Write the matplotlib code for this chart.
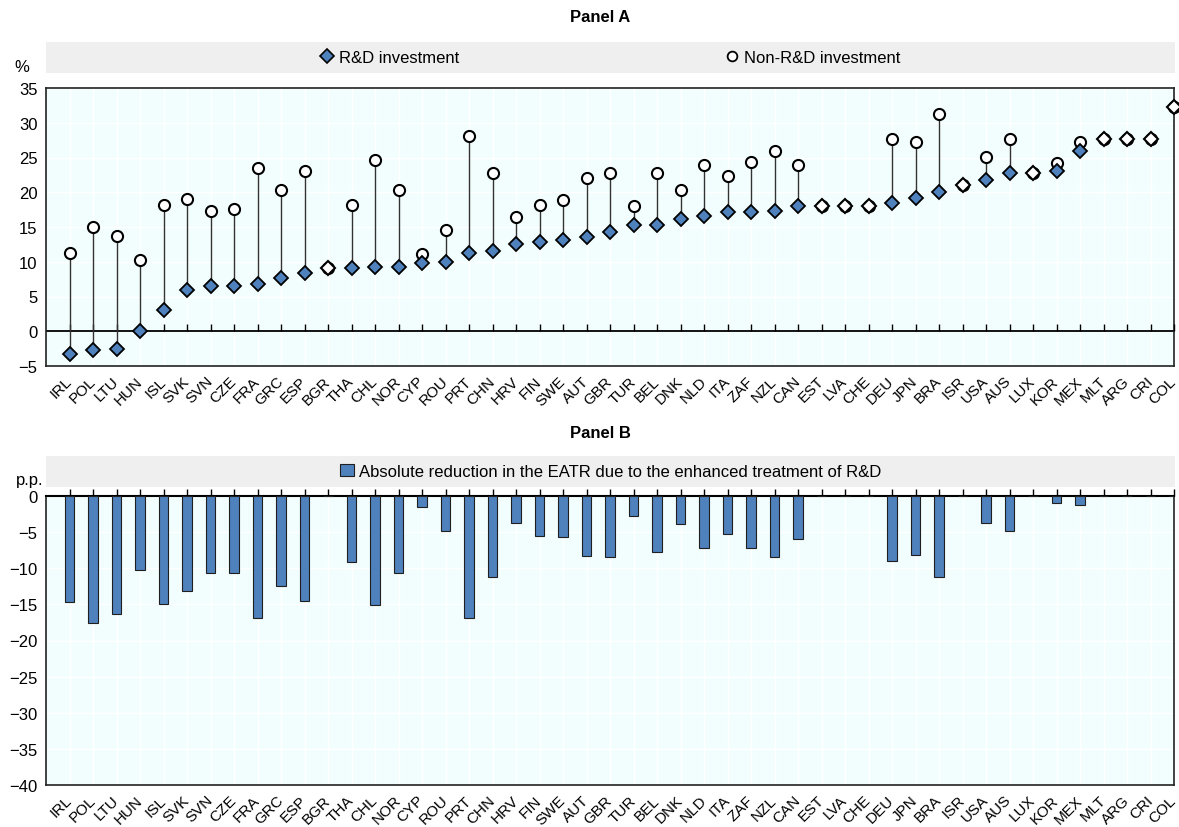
import numpy as np
import matplotlib
matplotlib.use("Agg")
from matplotlib import pyplot as plt
from matplotlib.lines import Line2D
from matplotlib.markers import TICKUP
from matplotlib.patches import Patch

plt.rcParams['font.family'] = ['Liberation Sans Narrow', 'Liberation Sans', 'DejaVu Sans']

#-----------------------------------------------------------------------
#	Data
#-----------------------------------------------------------------------

countries = ['IRL', 'POL', 'LTU', 'HUN', 'ISL', 'SVK', 'SVN', 'CZE', 'FRA', 'GRC',
             'ESP', 'BGR', 'THA', 'CHL', 'NOR', 'CYP', 'ROU', 'PRT', 'CHN', 'HRV',
             'FIN', 'SWE', 'AUT', 'GBR', 'TUR', 'BEL', 'DNK', 'NLD', 'ITA', 'ZAF',
             'NZL', 'CAN', 'EST', 'LVA', 'CHE', 'DEU', 'JPN', 'BRA', 'ISR', 'USA',
             'AUS', 'LUX', 'KOR', 'MEX', 'MLT', 'ARG', 'CRI', 'COL']

rd_invest = [-3.3, -2.75, -2.5, 0.0, 3.1, 6.0, 6.5, 6.5, 6.8, 7.6,
             8.4, 9.1, 9.1, 9.3, 9.3, 9.8, 10.0, 11.2, 11.6, 12.5,
             12.8, 13.2, 13.6, 14.3, 15.3, 15.3, 16.1, 16.6, 17.1, 17.1,
             17.3, 18.0, 18.0, 18.0, 18.0, 18.5, 19.2, 20.0, 21.0, 21.7,
             22.8, 22.8, 23.0, 26.0, 27.6, 27.6, 27.6, 32.2]

non_rd_invest = [11.3, 15.0, 13.7, 10.2, 18.2, 19.1, 17.3, 17.6, 23.5, 20.3,
                 23.1, 9.1, 18.2, 24.6, 20.3, 11.1, 14.6, 28.1, 22.8, 16.4,
                 18.2, 18.9, 22.1, 22.8, 18.0, 22.8, 20.3, 23.9, 22.3, 24.4,
                 26.0, 23.9, 18.0, 18.0, 18.0, 27.6, 27.3, 31.3, 21.0, 25.1,
                 27.6, 22.8, 24.2, 27.3, 27.6, 27.6, 27.6, 32.2]

eatr_reduction = [-14.7, -17.6, -16.3, -10.3, -15.0, -13.2, -10.7, -10.7, -16.9, -12.5,
                  -14.5, 0.0, -9.2, -15.1, -10.7, -1.5, -4.8, -16.9, -11.2, -3.7,
                  -5.5, -5.7, -8.3, -8.5, -2.8, -7.7, -3.9, -7.2, -5.2, -7.2,
                  -8.5, -5.9, 0.0, 0.0, 0.0, -9.0, -8.1, -11.2, 0.0, -3.7,
                  -4.8, 0.0, -1.0, -1.2, 0.0, 0.0, 0.0, 0.0]

panelA_ticks = [-5, 0, 5, 10, 15, 20, 25, 30, 35]
panelB_ticks = [0, -5, -10, -15, -20, -25, -30, -35, -40]

#-----------------------------------------------------------------------
#	Styling
#-----------------------------------------------------------------------

W, H = 1179, 828
BLUE = '#4F81BD'
BG = '#F2FEFE'
LEGBG = '#EFEFEF'
FS = 12

def fx(px):
	return px / W

def fy(py):
	return 1 - py / H

def styleAxes(ax, ticks, lim):
	ax.set_facecolor(BG)
	ax.set_xlim(-1, len(countries) - 1)
	ax.set_ylim(*lim)
	ax.set_yticks(ticks)
	ax.set_xticks(np.arange(len(countries)))
	# va='center' pulls the rotated labels up-left so COL stays inside the figure
	ax.set_xticklabels(countries, rotation=45, ha='right', va='center',
	                   rotation_mode='anchor', fontsize=11)
	ax.tick_params(axis='x', length=0, pad=9)
	ax.tick_params(axis='y', length=0, labelsize=FS, pad=6)
	ax.grid(True, color='white', lw=1)
	ax.set_axisbelow(True)
	for s in ax.spines.values():
		s.set_color('#222222')
		s.set_linewidth(1.2)

def zeroTicks(ax):
	# small upward ticks sitting on the zero line
	ax.plot(np.arange(len(countries)), np.zeros(len(countries)), ls='none',
	        marker=TICKUP, ms=5, mew=1, color='black', zorder=2.6, clip_on=False)

def legendBox(y0, y1, handles, labels, spacing):
	lax = fig.add_axes([fx(46), fy(y1), fx(1175 - 46), (y1 - y0) / H])
	lax.set_facecolor(LEGBG)
	lax.set_xticks([])
	lax.set_yticks([])
	for s in lax.spines.values():
		s.set_visible(False)
	lax.legend(handles, labels, loc='center', ncol=len(handles), frameon=False,
	           fontsize=FS, handlelength=0.8, handletextpad=0.3,
	           columnspacing=spacing, borderpad=0)

fig = plt.figure(figsize=(W / 100, H / 100), dpi=100)
x = np.arange(len(countries))
rd = np.array(rd_invest)
nrd = np.array(non_rd_invest)
same = np.isclose(rd, nrd)

#-----------------------------------------------------------------------
#	Panel A
#-----------------------------------------------------------------------

axA = fig.add_axes([fx(46), fy(367), fx(1174 - 46), (367 - 89) / H])
styleAxes(axA, panelA_ticks, (-5, 35))
axA.axhline(0, color='black', lw=1.3, zorder=2.5)
zeroTicks(axA)
axA.vlines(x, rd, nrd, color='#333333', lw=1, zorder=2.7)
axA.plot(x, nrd, 'o', ms=8, mfc='white', mec='black', mew=1.5, zorder=3, clip_on=False)
axA.plot(x[~same], rd[~same], 'D', ms=7.5, mfc=BLUE, mec='black', mew=1.3, zorder=4, clip_on=False)
axA.plot(x[same], rd[same], 'D', ms=7.5, mfc='white', mec='black', mew=1.5, zorder=4, clip_on=False)

fig.text(fx(600), fy(18), 'Panel A', ha='center', va='center', fontsize=FS, fontweight='bold')
fig.text(fx(22), fy(68), '%', ha='center', va='center', fontsize=FS)
legendBox(43, 74,
          [Line2D([], [], ls='none', marker='D', ms=7, mfc=BLUE, mec='black', mew=1.2),
           Line2D([], [], ls='none', marker='o', ms=7, mfc='white', mec='black', mew=1.3)],
          ['R&D investment', 'Non-R&D investment'], 16)

#-----------------------------------------------------------------------
#	Panel B
#-----------------------------------------------------------------------

axB = fig.add_axes([fx(46), fy(786), fx(1174 - 46), (786 - 497) / H])
styleAxes(axB, panelB_ticks, (-40, 0))
axB.bar(x, eatr_reduction, width=0.42, color=BLUE, edgecolor='#1F1F1F', lw=0.8, zorder=3)
zeroTicks(axB)
axB.spines['top'].set_color('black')
axB.spines['top'].set_linewidth(1.5)

fig.text(fx(600), fy(434), 'Panel B', ha='center', va='center', fontsize=FS, fontweight='bold')
fig.text(fx(30), fy(481), 'p.p.', ha='center', va='center', fontsize=FS)
legendBox(457, 488,
          [Patch(facecolor=BLUE, edgecolor='#1F1F1F', lw=0.8)],
          ['Absolute reduction in the EATR due to the enhanced treatment of R&D'], 2)

fig.savefig('out.png', dpi=100)
